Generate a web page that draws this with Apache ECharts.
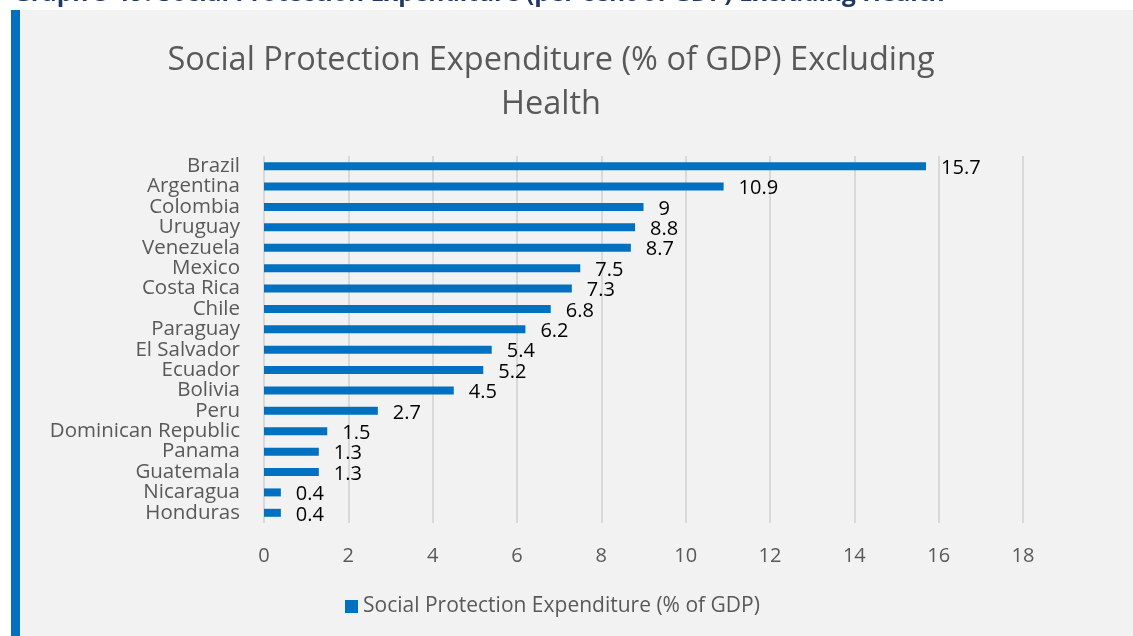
<!DOCTYPE html>
<html>
<head>
<meta charset="utf-8">
<script src="https://cdn.jsdelivr.net/npm/echarts@6/dist/echarts.min.js"></script>
<style>
  html, body { margin: 0; padding: 0; background: #fff; }
  #main { width: 1133px; height: 636px; }
</style>
</head>
<body>
<div id="main"></div>
<script>
var countries = ["Brazil", "Argentina", "Colombia", "Uruguay", "Venezuela", "Mexico", "Costa Rica", "Chile",
  "Paraguay", "El Salvador", "Ecuador", "Bolivia", "Peru", "Dominican Republic", "Panama", "Guatemala",
  "Nicaragua", "Honduras"];
var spending = [15.7, 10.9, 9, 8.8, 8.7, 7.5, 7.3, 6.8, 6.2, 5.4, 5.2, 4.5, 2.7, 1.5, 1.3, 1.3, 0.4, 0.4];
var xTicks = [0, 18, 2]; // min, max, step

var font = "'Open Sans', sans-serif";
var myChart = echarts.init(document.getElementById("main"));

var option = {
  backgroundColor: "#ffffff",
  textStyle: { fontFamily: font },
  graphic: [
    // grey panel
    { type: "rect", z: -10, shape: { x: 11, y: 10, width: 1122, height: 626 }, style: { fill: "#F2F2F2" } },
    // blue accent bar on the left
    { type: "rect", z: -9, shape: { x: 11, y: 10, width: 9, height: 626 }, style: { fill: "#0070C0" } },
    // document heading, cut off at the top
    {
      type: "text", left: 13, top: -18,
      style: {
        text: "Graph 5-19: Social Protection Expenditure (per cent of GDP) Excluding Health",
        fill: "#1F3864", font: "bold 24.5px 'Open Sans', sans-serif"
      }
    }
  ],
  title: {
    text: "Social Protection Expenditure (% of GDP) Excluding\nHealth",
    left: 546,
    textAlign: "center",
    top: 34,
    textStyle: { color: "#595959", fontSize: 32.5, fontWeight: "normal", lineHeight: 44, fontFamily: font }
  },
  legend: {
    bottom: 14,
    left: 340,
    itemWidth: 13,
    itemHeight: 13,
    itemGap: 6,
    icon: "rect",
    textStyle: { color: "#595959", fontSize: 21, fontFamily: font }
  },
  grid: { left: 264, right: 110, top: 156, bottom: 113, containLabel: false },
  xAxis: {
    type: "value",
    min: xTicks[0],
    max: xTicks[1],
    interval: xTicks[2],
    axisLine: { show: false },
    axisTick: { show: false },
    axisLabel: { color: "#595959", fontSize: 20, margin: 23, fontFamily: font },
    splitLine: { show: true, lineStyle: { color: "#D9D9D9", width: 2 } }
  },
  yAxis: {
    type: "category",
    data: countries,
    inverse: true,
    axisLine: { show: false },
    axisTick: { show: false },
    axisLabel: { color: "#595959", fontSize: 20.5, margin: 24, interval: 0, lineHeight: 20, fontFamily: font }
  },
  series: [
    {
      name: "Social Protection Expenditure (% of GDP)",
      type: "bar",
      data: spending,
      barWidth: 8,
      itemStyle: { color: "#0070C0" },
      label: {
        show: true,
        position: "right",
        distance: 15,
        offset: [0, 2],
        color: "#000000",
        fontSize: 20,
        fontFamily: font
      }
    }
  ]
};

option && myChart.setOption(option);
</script>
</body>
</html>
